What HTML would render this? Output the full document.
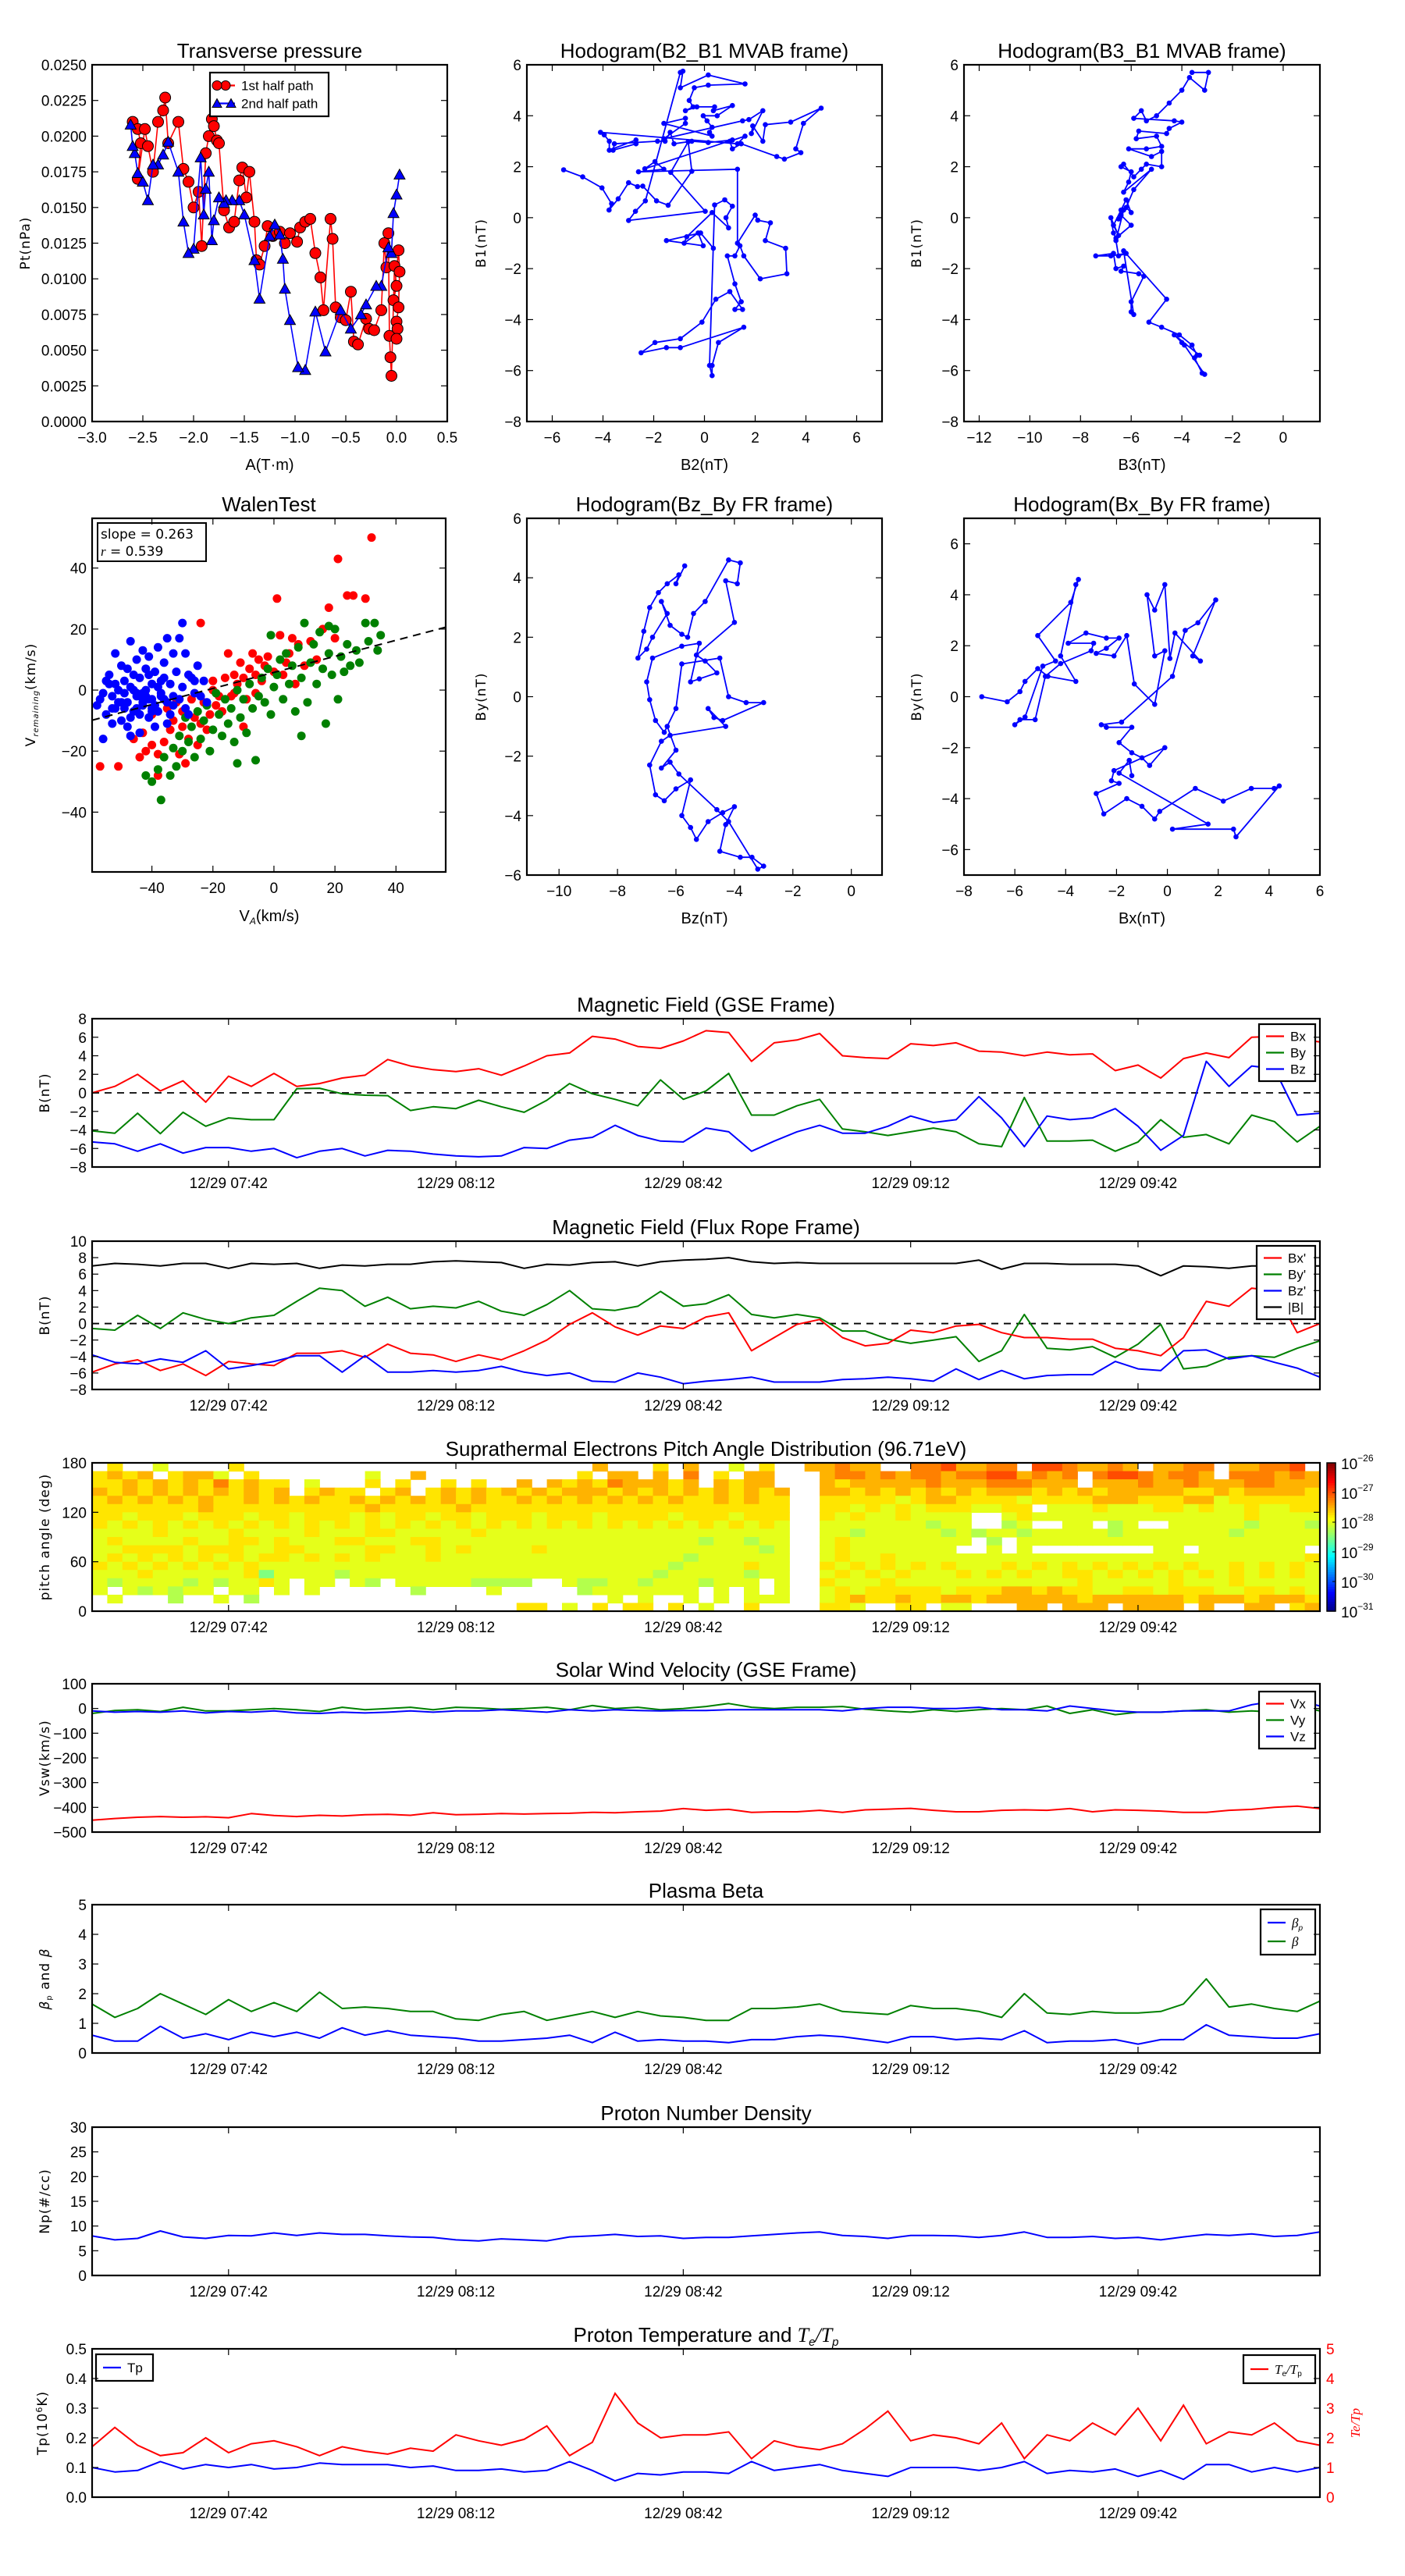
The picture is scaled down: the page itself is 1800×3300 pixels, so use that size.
<!DOCTYPE html>
<html><head><meta charset="utf-8"><title>Flux rope analysis</title>
<style>
html,body{margin:0;padding:0;background:#fff;}
svg{display:block;}
text{font-family:"Liberation Sans Narrow","Liberation Sans",sans-serif;fill:#000;}
.tk{font-size:19px;}
.tt{font-size:26px;}
.yl{font-family:"DejaVu Sans","Liberation Sans",sans-serif;font-size:17px;letter-spacing:1px;}
.xl{font-size:20px;}
.lg{font-size:17px;}
</style></head>
<body>
<svg id="fig" xmlns="http://www.w3.org/2000/svg" width="1800" height="3300" viewBox="0 0 1800 3300"></svg>
<script>
// ---------------- DATA ----------------
const tpRedA=[-2.6,-2.55,-2.52,-2.55,-2.48,-2.45,-2.4,-2.35,-2.3,-2.28,-2.25,-2.15,-2.1,-2.05,-2.0,-1.95,-1.92,-1.88,-1.85,-1.82,-1.8,-1.77,-1.75,-1.7,-1.65,-1.6,-1.55,-1.52,-1.48,-1.45,-1.4,-1.38,-1.35,-1.3,-1.27,-1.22,-1.15,-1.1,-1.05,-0.98,-0.95,-0.9,-0.85,-0.8,-0.75,-0.72,-0.65,-0.63,-0.6,-0.55,-0.5,-0.45,-0.42,-0.38,-0.3,-0.27,-0.22,-0.15,-0.12,-0.1,-0.08,-0.07,-0.06,-0.05,-0.02,0.0,-0.03,0.02,0.03,0.02,0.0,0.01,0.0];
const tpRedP=[0.021,0.0205,0.0195,0.017,0.0205,0.0193,0.0175,0.021,0.0218,0.0227,0.0195,0.021,0.0177,0.0168,0.015,0.0161,0.0123,0.0188,0.02,0.0212,0.0207,0.0197,0.0195,0.0148,0.0136,0.014,0.0169,0.0178,0.0157,0.0175,0.014,0.0113,0.011,0.0123,0.0137,0.013,0.0133,0.0125,0.0132,0.0126,0.0136,0.014,0.0142,0.0118,0.0101,0.0078,0.0142,0.0128,0.008,0.0073,0.0071,0.0091,0.0056,0.0054,0.0072,0.0065,0.0064,0.0078,0.0125,0.0108,0.0132,0.006,0.0045,0.0032,0.0109,0.0095,0.0085,0.012,0.0105,0.008,0.007,0.0065,0.0058];
const tpBlueA=[0.03,0.0,-0.03,-0.05,-0.08,-0.15,-0.2,-0.3,-0.35,-0.45,-0.55,-0.7,-0.8,-0.9,-0.97,-1.05,-1.1,-1.12,-1.15,-1.2,-1.25,-1.35,-1.4,-1.5,-1.55,-1.62,-1.68,-1.7,-1.75,-1.8,-1.82,-1.85,-1.88,-1.9,-1.93,-2.0,-2.05,-2.1,-2.15,-2.25,-2.3,-2.35,-2.4,-2.45,-2.5,-2.55,-2.58,-2.6,-2.62];
const tpBlueP=[0.0173,0.0159,0.0146,0.0118,0.0122,0.0095,0.0095,0.0082,0.0075,0.0065,0.0078,0.0049,0.0077,0.0036,0.0038,0.0071,0.0093,0.0114,0.0131,0.0138,0.013,0.0086,0.0113,0.0145,0.0155,0.0155,0.0155,0.0153,0.0157,0.0141,0.0127,0.0175,0.0163,0.0145,0.0185,0.0121,0.0118,0.014,0.0175,0.0196,0.0187,0.018,0.018,0.0155,0.0168,0.0174,0.0188,0.0193,0.0208];
const h1X=[-5.55,-4.8,-4.04,-3.66,-3.76,-3.4,-2.99,-2.64,-2.43,-1.89,-1.43,-0.5,-0.64,-1.33,0.03,-2.99,-2.72,-2.33,-0.95,-0.85,-0.95,0.15,1.6,0.15,-0.4,-0.6,-0.45,-0.75,-0.3,0.4,0.35,1.1,0.5,-0.05,0.1,0.3,0.2,0.3,-1.6,-0.75,-0.75,-1.6,1.5,1.75,2.3,1.85,1.9,2.3,2.4,3.4,4.6,3.9,3.6,3.8,3.15,2.85,1.45,1.1,1.0,1.6,1.3,-4.1,-3.95,-3.75,-3.75,-2.7,-2.7,-3.6,-3.55,-1.85,-1.55,-1.35,-1.2,-0.5,0.15,1.1,-2.35,-1.95,-1.6,-2.6,1.3,1.3,2.0,2.1,2.6,2.4,3.2,3.25,2.2,1.55,1.4,1.2,0.9,1.2,1.45,1.2,1.5,1.0,0.45,-0.1,-0.95,-1.95,-2.5,-1.5,-0.95,1.55,0.55,0.3,0.3,0.2,0.4,0.8,1.1,0.85,0.95,0.3,-0.7,-0.8,-0.25,-0.05,-1.5,-0.15,0.35];
const h1Y=[1.88,1.6,1.17,0.55,0.3,0.74,1.37,1.22,1.24,0.66,0.49,1.82,2.98,1.78,0.25,-0.11,0.25,0.66,5.7,5.75,5.1,5.6,5.25,5.2,5.1,4.6,4.35,4.2,4.35,4.35,4.2,4.4,4.0,4.0,3.8,3.55,3.35,3.2,3.7,3.9,3.7,3.1,3.8,3.85,4.2,3.3,3.6,3.0,3.65,3.75,4.3,3.7,2.7,2.55,2.3,2.4,2.9,2.7,3.0,3.2,2.9,3.35,3.25,3.0,2.65,3.05,2.9,2.65,2.9,3.0,3.0,3.35,2.9,3.0,2.95,3.05,1.92,2.2,1.9,1.8,1.9,-1.0,0.1,-0.1,-0.2,-0.9,-1.2,-2.2,-2.4,-1.5,-1.1,-1.5,-1.5,-2.6,-3.3,-3.6,-3.6,-2.9,-3.2,-4.1,-4.75,-4.9,-5.3,-5.1,-5.1,-4.3,-4.9,-5.8,-6.2,-5.8,0.5,0.7,0.45,0.0,-0.4,0.2,-0.75,-1.0,-0.6,-1.1,-0.9,-0.6,-1.2];
const h2X=[-3.6,-2.95,-3.1,-3.7,-4.0,-4.5,-5.0,-5.4,-5.6,-5.9,-4.3,-4.0,-4.5,-4.6,-5.7,-5.8,-5.0,-4.8,-5.4,-6.1,-5.2,-4.8,-4.8,-5.4,-5.6,-5.9,-6.3,-6.4,-6.0,-6.1,-6.3,-5.2,-5.9,-6.2,-6.0,-6.2,-6.4,-6.7,-6.5,-6.8,-6.7,-6.6,-6.0,-6.4,-6.5,-6.3,-6.6,-6.5,-6.2,-6.8,-7.4,-6.7,-6.6,-6.3,-6.4,-5.7,-5.5,-6.0,-6.0,-5.9,-6.3,-4.6,-5.3,-4.8,-4.1,-3.6,-3.4,-3.5,-3.2,-3.1,-3.9,-4.0,-4.3,-3.3];
const h2Y=[5.7,5.7,5.0,5.5,5.0,4.5,4.0,3.8,4.2,3.9,3.8,3.75,3.5,3.3,3.4,3.1,3.2,2.8,2.7,2.7,2.4,2.6,2.0,2.1,1.9,1.6,2.1,2.0,1.8,1.4,1.0,1.9,1.1,0.4,0.2,0.7,0.3,-0.3,-0.7,0.0,-0.6,-0.8,-0.3,0.1,-0.05,0.3,-0.9,-1.5,-1.4,-1.5,-1.5,-1.4,-2.0,-1.9,-2.1,-2.2,-2.3,-3.3,-3.7,-3.8,-1.3,-3.2,-4.1,-4.3,-4.6,-5.0,-5.4,-5.5,-6.1,-6.15,-5.0,-4.9,-4.6,-5.4];
const wBlueX=[-57,-55,-56,-54,-53,-52,-52,-51,-50,-50,-49,-48,-48,-47,-47,-46,-45,-45,-44,-44,-43,-43,-42,-42,-41,-41,-40,-40,-39,-38,-38,-37,-36,-36,-35,-35,-34,-33,-33,-32,-31,-31,-30,-30,-29,-28,-28,-27,-26,-25,-24,-23,-22,-55,-53,-49,-46,-44,-42,-39,-37,-51,-48,-45,-40,-36,-34,-47,-52,-43,-38,-41,-33,-29,-26,-58,-56,-54,-50,-49,-46,-44,-43,-41,-39,-37,-35,-53,-47,-45,-42,-40];
const wBlueY=[-3,-8,-16,5,-2,12,-6,0,-10,8,3,-4,-12,16,1,-7,10,-2,4,-14,13,-5,7,0,-9,11,2,-3,6,-7,14,-1,9,4,-11,17,2,-5,12,6,17,-3,22,1,12,-8,5,4,-1,8,-2,3,-4,3,-11,-1,5,-8,-2,-12,3,-4,7,-6,-6,-3,-8,-15,2,-1,1,5,-2,-6,3,-5,-1,2,-4,-6,0,-2,-4,-3,-5,-2,-4,-6,-9,-1,-3,-7];
const wRedX=[-57,-51,-46,-44,-43,-42,-40,-40,-38,-38,-36,-35,-34,-33,-32,-31,-30,-30,-28,-27,-26,-25,-24,-23,-22,-21,-20,-19,-18,-16,-15,-14,-13,-12,-11,-10,-9,-8,-7,-6,-5,-4,-3,-2,0,1,2,4,5,6,8,10,12,14,16,18,20,21,24,26,27,30,32,-29,-24,-20,-17,-13,-10,-6,3,7];
const wRedY=[-25,-25,-16,-22,-14,-20,-8,-18,-21,-28,-17,-6,-13,-10,-4,-21,-12,-7,-16,-3,-9,-18,-11,-4,-13,-8,0,-5,-2,4,12,-2,5,2,9,4,-3,7,12,5,10,3,8,11,6,30,18,9,12,17,15,8,16,10,20,27,17,43,31,31,58,30,50,-24,22,3,-7,-1,-12,-1,5,2];
const wGreenX=[-42,-40,-38,-37,-36,-34,-33,-32,-31,-30,-29,-28,-27,-26,-25,-24,-23,-22,-21,-20,-18,-17,-16,-15,-14,-13,-12,-11,-10,-9,-8,-7,-6,-5,-4,-3,-2,-1,0,1,2,3,4,5,6,7,8,9,10,11,12,13,14,15,16,17,18,19,20,21,22,23,24,25,27,28,30,31,33,34,35,-1,-12,-19,9,18];
const wGreenY=[-28,-30,-26,-36,-22,-28,-19,-25,-15,-20,-9,-17,-12,-22,-7,-16,-10,-5,-20,-13,-8,-15,-3,-11,-6,-17,0,-9,-3,-14,2,-6,-23,-2,4,-4,7,-8,1,5,10,-3,12,2,8,-7,14,4,22,-4,9,15,2,19,7,-11,12,5,20,-3,11,6,15,8,13,9,22,16,22,13,18,18,-24,-1,-15,21];
const walenSlope=0.263, walenIntercept=5.8, walenR=0.539;
const h3X=[-5.7,-6.0,-5.9,-6.3,-6.6,-6.9,-7.1,-7.3,-7.0,-6.8,-6.3,-6.5,-6.2,-5.8,-5.6,-5.4,-5.0,-4.2,-3.8,-3.9,-4.3,-4.0,-5.3,-5.0,-4.6,-5.2,-5.5,-5.2,-5.8,-6.8,-7.0,-6.9,-6.7,-6.4,-6.0,-5.8,-4.5,-4.2,-3.6,-3.0,-4.4,-4.7,-4.9,-4.3,-6.2,-6.5,-6.9,-6.7,-6.4,-6.0,-5.5,-5.8,-5.5,-5.3,-4.9,-4.4,-4.0,-4.3,-4.5,-3.8,-3.4,-3.0,-3.2,-4.2,-4.6,-5.9,-6.2,-6.5,-6.0,-6.3];
const h3Y=[4.4,3.8,4.1,3.8,3.5,3.0,2.2,1.3,1.6,2.0,2.8,3.2,2.4,2.1,2.0,2.8,3.2,4.6,4.5,3.8,3.9,2.5,1.4,1.2,0.8,0.6,0.5,1.8,1.7,1.3,0.5,-0.1,-0.8,-1.2,-0.4,1.1,1.3,0.0,-0.2,-0.2,-0.8,-0.7,-0.4,-1.0,-1.3,-1.5,-2.3,-3.3,-3.5,-3.1,-2.8,-4.0,-4.4,-4.8,-4.2,-3.9,-3.7,-4.3,-5.2,-5.4,-5.4,-5.7,-5.8,-4.2,-3.8,-2.6,-2.2,-2.4,-1.8,-1.0];
const h4X=[-7.3,-6.3,-5.8,-5.6,-5.1,-4.7,-3.6,-4.2,-3.6,-3.5,-3.8,-5.1,-4.4,-4.9,-5.6,-6.0,-5.8,-5.2,-4.8,-4.2,-3.0,-2.9,-3.9,-3.2,-2.4,-1.9,-2.4,-2.8,-2.1,-1.6,-1.3,-0.5,-0.1,-0.5,-0.8,-0.5,-0.1,0.1,0.3,1.3,1.0,1.9,1.2,0.7,0.2,-1.8,-2.6,-2.4,-1.4,-1.9,-1.4,-1.0,-0.7,-0.1,-2.1,-2.2,-1.9,-2.8,-2.5,-1.6,-1.0,-0.5,-0.3,1.1,2.2,3.3,4.2,4.4,2.7,2.6,0.2,1.6,-1.9,-1.5,-1.4];
const h4Y=[0,-0.2,0.2,0.6,1.1,0.8,0.6,1.6,4.4,4.6,3.7,2.4,1.4,1.2,-0.8,-1.1,-0.9,-0.9,0.8,1.3,1.8,2.1,2.1,2.5,2.3,2.3,1.9,1.7,1.6,2.4,0.5,-0.3,1.8,1.6,4.0,3.4,4.4,1.5,2.5,1.4,1.6,3.8,2.9,2.6,0.8,-1.0,-1.1,-1.2,-1.2,-1.8,-2.2,-2.4,-2.7,-2.0,-2.9,-3.3,-3.4,-3.8,-4.6,-4.0,-4.3,-4.8,-4.5,-3.6,-4.1,-3.6,-3.6,-3.5,-5.5,-5.2,-5.2,-5.0,-3.0,-2.5,-3.1];
const timeTicks=[18,48,78,108,138];
const timeTickLabels=["12/29 07:42","12/29 08:12","12/29 08:42","12/29 09:12","12/29 09:42"];
const gseBx=[0,0.7,2.0,0.2,1.3,-1.0,1.8,0.7,2.1,0.7,1.0,1.6,1.9,3.6,2.9,2.5,2.3,2.6,1.9,2.9,4.0,4.3,6.1,5.8,5.0,4.8,5.6,6.7,6.5,3.4,5.4,5.7,6.4,4.0,3.8,3.7,5.3,5.1,5.4,4.5,4.4,4.0,4.4,4.1,4.2,2.4,3.0,1.6,3.7,4.3,3.8,6.0,6.1,5.8,5.5];
const gseBy=[-4.1,-4.35,-2.2,-4.4,-2.1,-3.6,-2.7,-2.9,-2.9,0.45,0.5,-0.1,-0.25,-0.3,-1.9,-1.5,-1.7,-0.8,-1.5,-2.1,-0.8,1.0,-0.1,-0.7,-1.4,1.4,-0.7,0.2,2.1,-2.4,-2.4,-1.4,-0.7,-3.9,-4.2,-4.6,-4.2,-3.8,-4.2,-5.5,-5.8,-0.5,-5.2,-5.2,-5.1,-6.3,-5.3,-2.9,-4.8,-4.5,-5.5,-2.4,-3.1,-5.3,-3.6];
const gseBz=[-5.3,-5.5,-6.3,-5.5,-6.5,-5.9,-5.9,-6.3,-6.0,-7.0,-6.3,-6.0,-6.8,-6.2,-6.3,-6.6,-6.8,-6.9,-6.8,-5.9,-6.0,-5.1,-4.8,-3.5,-4.6,-5.2,-5.3,-3.8,-4.2,-6.3,-5.2,-4.2,-3.5,-4.35,-4.35,-3.6,-2.5,-3.2,-2.9,-0.4,-2.7,-5.8,-2.5,-2.9,-2.7,-1.7,-3.6,-6.2,-4.6,3.4,0.7,2.9,2.6,-2.4,-2.2];
const frBx=[-5.9,-4.9,-4.4,-5.7,-4.9,-6.3,-4.6,-4.9,-5.1,-3.6,-3.6,-3.3,-4.1,-2.5,-3.6,-3.8,-4.6,-3.8,-4.4,-3.3,-2.0,-0.1,1.3,-0.4,-1.4,-0.3,-0.6,0.8,1.3,-3.3,-1.7,-0.1,0.5,-1.7,-2.7,-2.4,-0.8,-1.1,-0.3,-0.1,-1.1,-1.7,-1.7,-1.9,-1.9,-3.0,-3.3,-3.9,-1.7,2.7,2.1,4.3,4.0,-1.1,0.0];
const frBy=[-0.6,-0.8,1.0,-0.6,1.3,0.5,0.0,0.7,1.0,2.7,4.3,4.0,2.1,3.2,1.8,2.1,1.9,2.7,1.5,1.0,2.3,4.0,1.8,1.6,2.1,3.9,2.1,2.4,3.5,1.1,0.7,1.1,0.7,-0.9,-0.9,-1.9,-2.4,-2.0,-1.6,-4.6,-3.3,1.1,-3.0,-3.2,-2.8,-4.1,-2.5,-0.1,-5.5,-5.2,-4.1,-3.9,-4.1,-3.0,-2.1];
const frBz=[-3.8,-4.7,-4.9,-4.3,-4.7,-3.3,-5.5,-5.1,-4.6,-3.9,-3.9,-5.9,-3.9,-5.9,-5.9,-5.7,-5.9,-5.7,-5.2,-5.9,-6.3,-6.0,-7.0,-7.1,-6.0,-6.5,-7.3,-7.0,-6.8,-6.5,-7.1,-7.1,-7.1,-6.8,-6.7,-6.5,-6.7,-7.0,-5.5,-6.8,-5.7,-6.7,-6.3,-6.2,-6.2,-4.6,-5.5,-5.7,-3.3,-3.2,-4.3,-3.9,-4.7,-5.4,-6.5];
const frBt=[7.0,7.3,7.2,7.0,7.3,7.3,6.7,7.3,7.2,7.3,6.7,7.1,7.0,7.2,7.2,7.5,7.6,7.5,7.4,6.7,7.2,7.1,7.4,7.5,7.0,7.5,7.7,7.8,8.0,7.5,7.3,7.4,7.3,7.3,7.3,7.3,7.3,7.3,7.3,7.7,6.6,7.3,7.3,7.2,7.2,7.2,7.0,5.8,7.0,6.9,6.7,7.0,7.0,7.0,7.0];
const velVx=[-452,-445,-440,-437,-440,-438,-442,-425,-433,-437,-432,-435,-430,-428,-432,-422,-430,-428,-425,-427,-425,-424,-420,-422,-418,-415,-405,-412,-408,-420,-418,-418,-412,-420,-410,-407,-404,-412,-418,-418,-412,-410,-412,-405,-418,-410,-412,-415,-420,-420,-412,-408,-400,-395,-405];
const velVy=[-20,-8,-5,-12,5,-10,-10,-5,0,-5,-12,5,-5,0,5,-5,5,2,-3,0,5,-5,12,0,5,-5,0,8,20,5,0,5,5,8,-3,-10,-15,-5,-12,-5,0,-5,10,-20,-5,-25,-15,-15,-10,-5,-15,-10,-15,10,-10];
const velVz=[-10,-15,-12,-15,-10,-18,-12,-15,-10,-18,-20,-15,-18,-15,-10,-15,-10,-10,-5,-10,-15,-5,-10,-5,-8,-10,-8,-8,-5,-5,-5,-5,-5,-10,0,5,5,0,0,5,-5,-5,-10,10,0,-10,-15,-15,-10,-10,-10,15,30,35,10];
const betaP=[0.6,0.4,0.4,0.9,0.5,0.65,0.45,0.7,0.55,0.7,0.5,0.85,0.6,0.75,0.6,0.55,0.5,0.4,0.4,0.45,0.5,0.6,0.35,0.7,0.4,0.45,0.4,0.4,0.35,0.45,0.45,0.55,0.6,0.55,0.45,0.35,0.55,0.55,0.45,0.5,0.45,0.75,0.35,0.4,0.4,0.45,0.3,0.45,0.45,0.95,0.6,0.55,0.5,0.5,0.65];
const betaT=[1.65,1.2,1.5,2.0,1.65,1.3,1.8,1.4,1.7,1.4,2.05,1.5,1.55,1.5,1.4,1.4,1.15,1.1,1.3,1.4,1.1,1.25,1.4,1.2,1.4,1.25,1.2,1.1,1.1,1.5,1.5,1.55,1.65,1.4,1.35,1.3,1.6,1.5,1.5,1.4,1.2,2.0,1.35,1.3,1.4,1.35,1.35,1.4,1.65,2.5,1.55,1.65,1.5,1.4,1.75];
const npDensity=[8,7.2,7.5,9,7.8,7.5,8.1,8.0,8.6,8.1,8.6,8.3,8.3,8.0,7.8,7.7,7.2,7.0,7.4,7.2,7.0,7.8,8.0,8.3,7.9,8.0,7.5,7.7,7.7,8.0,8.3,8.6,8.8,8.1,7.9,7.5,8.1,8.1,8.0,7.7,8.1,8.8,7.7,7.7,7.9,7.5,7.7,7.2,7.8,8.3,8.1,8.4,7.9,8.1,8.8];
const tpTemp=[0.1,0.085,0.09,0.12,0.095,0.11,0.1,0.11,0.095,0.1,0.115,0.11,0.11,0.11,0.1,0.105,0.09,0.09,0.095,0.085,0.09,0.12,0.09,0.055,0.08,0.075,0.085,0.085,0.08,0.12,0.09,0.1,0.11,0.09,0.08,0.07,0.1,0.1,0.1,0.09,0.1,0.12,0.08,0.09,0.085,0.095,0.07,0.09,0.06,0.11,0.11,0.085,0.1,0.085,0.1];
const teTpRatio=[1.7,2.35,1.75,1.4,1.5,2.0,1.5,1.8,1.9,1.7,1.4,1.7,1.55,1.45,1.65,1.55,2.1,1.9,1.75,1.95,2.4,1.4,1.85,3.5,2.5,2.0,2.1,2.1,2.2,1.3,1.9,1.7,1.6,1.8,2.3,2.9,1.9,2.1,2.0,1.8,2.5,1.3,2.1,1.9,2.5,2.1,3.0,1.9,3.1,1.8,2.2,2.1,2.5,1.9,1.75];
const padRows=[
".6..5....6.......................7...6.7..5.6..77877..8897788.9987787.7788.77889",
"6767.6775.6.......5..7..........6.77.7.8.6.77...78878788788997878.89987887.8887878",
"6676767686766.5...6.6..6.6..7.7676877767.7677...76777778777888777.77787787778877777",
"7676767676767.6766.67.676767676777676767676767..77676767676777676767777766767777677",
"6767676766767676676767676766767676767676676766..66666567766665666677766677566666666",
"6666666766666666667666667666666666666666666666..66565656665566.55565556656556556665",
"6656665666566566656566566566656665666656665666..6565565555..565555555555555565555565",
"6565656565656565656565656565656565656565656565..5555555455..45..55.45..5555545554565",
"5555655556555565556655555655555555555555555555..5545555545455455555455555554555555",
"5655556556656555665556655555555555555555455455..5655555555.4.5555555555555555555555",
"5566665666556655556655656555565555555555555545..565555555..5.5........55.5555555.55",
"5656565656566565656555655555555555555554555555..5655655555555555555555555555555565",
"6565656565655555555555555555555555555545555655..6565656565556565656565656556565656",
"5556555555635555455555555555555555555455555455..5656565556565655665656565656565656",
"5455554545565.55.54.555554444..5445545554555.5..6555655555555555565555565556555555",
"5.545455.55.5.5......4....5.....45555555.5.5.5..5656666656667767665566566655665656",
".5...4..5.4.......................5.5..5.5.555..5676676677677777767777776777677767",
"............................66.5.6.66.6.5..6....665..66.55...77.777.7777.7..77.67.6"];
const cbarTicks=[-26,-27,-28,-29,-30,-31];

// ---------------- HELPERS ----------------
const NS='http://www.w3.org/2000/svg';
const svg=document.getElementById('fig');
function mk(tag,parent,attrs){const e=document.createElementNS(NS,tag);for(const k in attrs)e.setAttribute(k,attrs[k]);parent.appendChild(e);return e;}
function txt(parent,x,y,s,cls,anchor){const t=mk('text',parent,{x:x,y:y,'text-anchor':anchor||'middle'});if(cls)t.setAttribute('class',cls);t.textContent=s;return t;}
function lin(d0,d1,r0,r1){return v=>r0+(v-d0)/(d1-d0)*(r1-r0);}
function jet(t){const c=v=>Math.round(255*Math.max(0,Math.min(1,v)));return 'rgb('+c(1.5-Math.abs(4*t-3))+','+c(1.5-Math.abs(4*t-2))+','+c(1.5-Math.abs(4*t-1))+')';}
function fmtNum(v,dec){const s=Math.abs(v).toFixed(dec);return (v<0?'\u2212':'')+s;}
let clipN=0;
function axes(name,b,xd,yd,opt){
  const g=mk('g',svg,{});
  
  
  const sx=lin(xd[0],xd[1],b.x0,b.x1), sy=lin(yd[0],yd[1],b.y1,b.y0);
  const id='clip'+(clipN++);
  const cp=mk('clipPath',g,{id:id});
  mk('rect',cp,{x:b.x0,y:b.y0,width:b.x1-b.x0,height:b.y1-b.y0});
  const plot=mk('g',g,{'clip-path':'url(#'+id+')'});
  
  
  const over=mk('g',g,{});
  const tg=mk('g',g,{});
  
  
  (opt.xticks||[]).forEach((v,i)=>{const x=sx(v);
    mk('line',tg,{x1:x,y1:b.y1,x2:x,y2:b.y1-8,stroke:'#000','stroke-width':1.2});
    mk('line',tg,{x1:x,y1:b.y0,x2:x,y2:b.y0+8,stroke:'#000','stroke-width':1.2});
    const lab=opt.xlabels?opt.xlabels[i]:opt.xfmt(v);
    const t=txt(tg,x,b.y1+27,lab,'tk');
    
    });
  (opt.yticks||[]).forEach(v=>{const y=sy(v);
    mk('line',tg,{x1:b.x0,y1:y,x2:b.x0+8,y2:y,stroke:'#000','stroke-width':1.2});
    if(!opt.noRightTicks)mk('line',tg,{x1:b.x1,y1:y,x2:b.x1-8,y2:y,stroke:'#000','stroke-width':1.2});
    const t=txt(tg,b.x0-7,y+7,opt.yfmt(v),'tk','end');
    
    });
  const fr=mk('rect',g,{x:b.x0,y:b.y0,width:b.x1-b.x0,height:b.y1-b.y0,fill:'none',stroke:'#000','stroke-width':2.2});
  
  
  if(opt.title){const t=txt(g,(b.x0+b.x1)/2,b.y0-9,opt.title,'tt');
    
    }
  if(opt.xlabel){const t=txt(g,(b.x0+b.x1)/2,b.y1+62,opt.xlabel,'xl');
    
    }
  if(opt.ylabel){const yx=opt.ylabelX, yy=(b.y0+b.y1)/2;
    const t=txt(g,yx,yy,opt.ylabel,'yl');
    t.setAttribute('transform','rotate(-90 '+yx+' '+yy+')');
    
    }
  return {g,plot,over,sx,sy,b};
}
function line(ax,xs,ys,color,w,name){
  const pts=xs.map((x,i)=>ax.sx(x).toFixed(1)+','+ax.sy(ys[i]).toFixed(1)).join(' ');
  const p=mk('polyline',ax.plot,{points:pts,fill:'none',stroke:color,'stroke-width':w||2,'stroke-linejoin':'round'});
  
  
  return p;
}
function dots(ax,xs,ys,color,r,name,edge){
  const g=mk('g',ax.plot,{});
  
  
  xs.forEach((x,i)=>{const c=mk('circle',g,{cx:ax.sx(x).toFixed(1),cy:ax.sy(ys[i]).toFixed(1),r:r,fill:color});
    if(edge){c.setAttribute('stroke',edge);c.setAttribute('stroke-width',1);}});
}
function tris(ax,xs,ys,color,s,name){
  const g=mk('g',ax.plot,{});
  
  
  xs.forEach((x,i)=>{const cx=ax.sx(x),cy=ax.sy(ys[i]);
    mk('polygon',g,{points:(cx)+','+(cy-s)+' '+(cx-s)+','+(cy+s*0.8)+' '+(cx+s)+','+(cy+s*0.8),fill:color,stroke:'#000','stroke-width':1});});
}
function legend(ax,x,y,w,entries,name,rowH){
  const g=mk('g',ax.over,{});
  
  
  rowH=rowH||25;
  mk('rect',g,{x:x,y:y,width:w,height:entries.length*rowH+10,fill:'#fff',stroke:'#000','stroke-width':2.2});
  entries.forEach((e,i)=>{const yy=y+5+rowH*(i+0.5);
    const it=mk('g',g,{});
    
    
    mk('line',it,{x1:x+9,y1:yy,x2:x+32,y2:yy,stroke:e.color,'stroke-width':2.2});
    if(e.marker==='o')mk('circle',it,{cx:x+20,cy:yy,r:6,fill:e.color,stroke:'#000'});
    if(e.marker==='o')mk('circle',it,{cx:x+9,cy:yy,r:6,fill:e.color,stroke:'#000'});
    if(e.marker==='^'){mk('polygon',it,{points:(x+9)+','+(yy-6)+' '+(x+3)+','+(yy+5)+' '+(x+15)+','+(yy+5),fill:e.color,stroke:'#000'});
      mk('polygon',it,{points:(x+27)+','+(yy-6)+' '+(x+21)+','+(yy+5)+' '+(x+33)+','+(yy+5),fill:e.color,stroke:'#000'});}
    const t=txt(it,x+40,yy+6,'', 'lg','start');
    if(e.html){e.html(t);}else t.textContent=e.label;});
}
function seriesX(n){const a=[];for(let i=0;i<n;i++)a.push(i*162/(n-1));return a;}
const tk=(a,b,s)=>{const r=[];for(let v=a;v<=b+1e-9;v+=s)r.push(+v.toFixed(6));return r;};

// ---------------- TOP ROW ----------------
const axTP=axes('transverse-pressure-chart',{x0:118,y0:83,x1:573,y1:540},[-3,0.5],[0,0.025],
 {xticks:tk(-3,0.5,0.5),yticks:tk(0,0.025,0.0025),xfmt:v=>fmtNum(v,1),yfmt:v=>v.toFixed(4),title:'Transverse pressure',xlabel:'A(T\u00b7m)',ylabel:'Pt(nPa)',ylabelX:38});
line(axTP,tpRedA,tpRedP,'#f00',1.6,'first-half-path-line');
dots(axTP,tpRedA,tpRedP,'#f00',7,'first-half-path-markers','#000');
line(axTP,tpBlueA,tpBlueP,'#00f',1.6,'second-half-path-line');
tris(axTP,tpBlueA,tpBlueP,'#00f',7,'second-half-path-markers');
legend(axTP,269,93,152,[{key:'1st-half',color:'#f00',marker:'o',label:'1st half path'},{key:'2nd-half',color:'#00f',marker:'^',label:'2nd half path'}],'tp-legend',23);

const axH1=axes('hodogram-b2-b1-chart',{x0:675,y0:83,x1:1130,y1:540},[-7,7],[-8,6],
 {xticks:tk(-6,6,2),yticks:tk(-8,6,2),xfmt:v=>fmtNum(v,0),yfmt:v=>fmtNum(v,0),title:'Hodogram(B2_B1 MVAB frame)',xlabel:'B2(nT)',ylabel:'B1(nT)',ylabelX:622});
line(axH1,h1X,h1Y,'#00f',1.8,'hodogram-b2-b1-path');
dots(axH1,h1X,h1Y,'#00f',3.3,'hodogram-b2-b1-points');

const axH2=axes('hodogram-b3-b1-chart',{x0:1235,y0:83,x1:1691,y1:540},[-12.6,1.45],[-8,6],
 {xticks:tk(-12,0,2),yticks:tk(-8,6,2),xfmt:v=>fmtNum(v,0),yfmt:v=>fmtNum(v,0),title:'Hodogram(B3_B1 MVAB frame)',xlabel:'B3(nT)',ylabel:'B1(nT)',ylabelX:1180});
line(axH2,h2X,h2Y,'#00f',1.8,'hodogram-b3-b1-path');
dots(axH2,h2X,h2Y,'#00f',3.3,'hodogram-b3-b1-points');

// ---------------- SECOND ROW ----------------
const axW=axes('walen-test-chart',{x0:118,y0:664,x1:571,y1:1117},[-59.6,56.3],[-59.6,56.3],
 {xticks:[-40,-20,0,20,40],yticks:[-40,-20,0,20,40],xfmt:v=>fmtNum(v,0),yfmt:v=>fmtNum(v,0),title:'WalenTest',ylabelX:38});
dots(axW,wRedX,wRedY,'#f00',5.5,'walen-red-points');
dots(axW,wGreenX,wGreenY,'#008000',5.5,'walen-green-points');
dots(axW,wBlueX,wBlueY,'#00f',5.5,'walen-blue-points');
(function(){const fx=[-59.6,56.3];const p=mk('line',axW.plot,{x1:axW.sx(fx[0]),y1:axW.sy(walenSlope*fx[0]+walenIntercept),x2:axW.sx(fx[1]),y2:axW.sy(walenSlope*fx[1]+walenIntercept),stroke:'#000','stroke-width':2,'stroke-dasharray':'10,7'});

})();
(function(){const g=mk('g',axW.over,{});


mk('rect',g,{x:125,y:670,width:139,height:49,fill:'#fff',stroke:'#000','stroke-width':2});
const t1=mk('text',g,{x:129,y:690,style:'font-family:"DejaVu Sans",sans-serif;font-size:17px'});t1.textContent='slope = '+walenSlope.toFixed(3);
const t2=mk('text',g,{x:129,y:712,style:'font-family:"DejaVu Sans",sans-serif;font-size:17px'});
const it=mk('tspan',t2,{'font-style':'italic','font-family':'"Liberation Serif",serif'});it.textContent='r';
const r2=mk('tspan',t2,{});r2.textContent=' = '+walenR.toFixed(3);})();
(function(){const t=txt(svg,345,1180,'V','xl');
const s=mk('tspan',t,{'font-size':'12','dy':'4','font-style':'italic'});s.textContent='A';
const s2=mk('tspan',t,{'dy':'-4'});s2.textContent='(km/s)';
const y=mk('text',svg,{x:45,y:890,'text-anchor':'middle',class:'yl',transform:'rotate(-90 45 890)'});

const a=mk('tspan',y,{});a.textContent='V';const b2=mk('tspan',y,{'font-size':'10','dy':'4','font-style':'italic'});b2.textContent='remaining';
const c=mk('tspan',y,{'dy':'-4'});c.textContent='(km/s)';})();

const axH3=axes('hodogram-bz-by-chart',{x0:675,y0:664,x1:1130,y1:1121},[-11.1,1.05],[-6,6],
 {xticks:tk(-10,0,2),yticks:tk(-6,6,2),xfmt:v=>fmtNum(v,0),yfmt:v=>fmtNum(v,0),title:'Hodogram(Bz_By FR frame)',xlabel:'Bz(nT)',ylabel:'By(nT)',ylabelX:622});
line(axH3,h3X,h3Y,'#00f',1.8,'hodogram-bz-by-path');
dots(axH3,h3X,h3Y,'#00f',3.3,'hodogram-bz-by-points');

const axH4=axes('hodogram-bx-by-chart',{x0:1235,y0:664,x1:1691,y1:1121},[-8,6],[-7,7],
 {xticks:tk(-8,6,2),yticks:tk(-6,6,2),xfmt:v=>fmtNum(v,0),yfmt:v=>fmtNum(v,0),title:'Hodogram(Bx_By FR frame)',xlabel:'Bx(nT)',ylabel:'By(nT)',ylabelX:1180});
line(axH4,h4X,h4Y,'#00f',1.8,'hodogram-bx-by-path');
dots(axH4,h4X,h4Y,'#00f',3.3,'hodogram-bx-by-points');

// ---------------- TIME SERIES ----------------
const TX0=118,TX1=1691,TH=190;
function tsAxes(name,top,yd,yticks,yfmt,title,ylabel,extra){
  return axes(name,{x0:TX0,y0:top,x1:TX1,y1:top+TH},[0,162],yd,Object.assign({xticks:timeTicks,xlabels:timeTickLabels,yticks:yticks,yfmt:yfmt,title:title,ylabel:ylabel,ylabelX:63},extra||{}));
}
function zeroLine(ax,name){const p=mk('line',ax.plot,{x1:ax.b.x0,x2:ax.b.x1,y1:ax.sy(0),y2:ax.sy(0),stroke:'#000','stroke-width':1.8,'stroke-dasharray':'9,7'});
}

const axG=tsAxes('gse-field-chart',1305,[-8,8],tk(-8,8,2),v=>fmtNum(v,0),'Magnetic Field (GSE Frame)','B(nT)');
zeroLine(axG,'gse-zero-line');
line(axG,seriesX(gseBx.length),gseBx,'#f00',2,'gse-bx-line');
line(axG,seriesX(gseBy.length),gseBy,'#008000',2,'gse-by-line');
line(axG,seriesX(gseBz.length),gseBz,'#00f',2,'gse-bz-line');
legend(axG,1613,1312,72,[{key:'bx',color:'#f00',label:'Bx'},{key:'by',color:'#008000',label:'By'},{key:'bz',color:'#00f',label:'Bz'}],'gse-legend',21);

const axF=tsAxes('flux-rope-field-chart',1590,[-8,10],tk(-8,10,2),v=>fmtNum(v,0),'Magnetic Field (Flux Rope Frame)','B(nT)');
zeroLine(axF,'fr-zero-line');
line(axF,seriesX(frBt.length),frBt,'#000',2,'fr-btotal-line');
line(axF,seriesX(frBy.length),frBy,'#008000',2,'fr-by-line');
line(axF,seriesX(frBx.length),frBx,'#f00',2,'fr-bx-line');
line(axF,seriesX(frBz.length),frBz,'#00f',2,'fr-bz-line');
legend(axF,1610,1596,75,[{key:'bx',color:'#f00',label:"Bx'"},{key:'by',color:'#008000',label:"By'"},{key:'bz',color:'#00f',label:"Bz'"},{key:'bt',color:'#000',label:'|B|'}],'fr-legend',21);

const axP=tsAxes('pitch-angle-chart',1874,[0,180],[0,60,120,180],v=>String(v),'Suprathermal Electrons Pitch Angle Distribution (96.71eV)','pitch angle (deg)');
(function(){const g=mk('g',axP.plot,{});


const nRows=padRows.length, colMin=2;
padRows.forEach((row,r)=>{const a1=180-r*180/nRows, a0=180-(r+1)*180/nRows;
  for(let c=0;c<row.length;c++){const ch=row[c];if(ch==='.')continue;
    const t=0.35+0.05*(+ch);const logv=-31+5*t;
    const x0=axP.sx(c*colMin),x1=axP.sx((c+1)*colMin);
    const cell=mk('rect',g,{x:x0.toFixed(1),y:axP.sy(a1).toFixed(1),width:(x1-x0+0.6).toFixed(1),height:(axP.sy(a0)-axP.sy(a1)+0.6).toFixed(1),fill:jet((logv+31)/5)});
    
    }});})();
(function(){const g=mk('g',svg,{});


const y0=1874,y1=2064,x=1700,w=11,N=60;
for(let i=0;i<N;i++){mk('rect',g,{x:x,y:(y1-(i+1)*(y1-y0)/N).toFixed(2),width:w,height:((y1-y0)/N+0.6).toFixed(2),fill:jet((i+0.5)/N)});}
mk('rect',g,{x:x,y:y0,width:w,height:y1-y0,fill:'none',stroke:'#000','stroke-width':1.5});
const cs=lin(-31,-26,y1,y0);
cbarTicks.forEach(v=>{const y=cs(v);mk('line',g,{x1:x+w-4,x2:x+w,y1:y,y2:y,stroke:'#000'});
  const t=txt(g,x+18,y+8,'10','tk','start');
  
  
  const s=mk('tspan',t,{'font-size':'12','dy':'-10'});s.textContent=String(v).replace('-','\u2212');});})();

const axV=tsAxes('solar-wind-velocity-chart',2157,[-500,100],tk(-500,100,100),v=>fmtNum(v,0),'Solar Wind Velocity (GSE Frame)','Vsw(km/s)');
line(axV,seriesX(velVx.length),velVx,'#f00',2,'vx-line');
line(axV,seriesX(velVy.length),velVy,'#008000',2,'vy-line');
line(axV,seriesX(velVz.length),velVz,'#00f',2,'vz-line');
legend(axV,1613,2167,72,[{key:'vx',color:'#f00',label:'Vx'},{key:'vy',color:'#008000',label:'Vy'},{key:'vz',color:'#00f',label:'Vz'}],'velocity-legend',21);

const axB=tsAxes('plasma-beta-chart',2440,[0,5],tk(0,5,1),v=>String(v),'Plasma Beta','');
line(axB,seriesX(betaT.length),betaT,'#008000',2,'beta-total-line');
line(axB,seriesX(betaP.length),betaP,'#00f',2,'beta-proton-line');
legend(axB,1615,2446,70,[{key:'betap',color:'#00f',html:t=>{const a=mk('tspan',t,{'font-style':'italic','font-family':'"Liberation Serif",serif'});a.textContent='\u03b2';const b=mk('tspan',t,{'font-size':'10','dy':'4','font-style':'italic'});b.textContent='p';}},{key:'beta',color:'#008000',html:t=>{const a=mk('tspan',t,{'font-style':'italic','font-family':'"Liberation Serif",serif'});a.textContent='\u03b2';}}],'beta-legend',24);
(function(){const y=mk('text',svg,{x:63,y:2535,'text-anchor':'middle',class:'yl',transform:'rotate(-90 63 2535)'});

const a=mk('tspan',y,{'font-style':'italic'});a.textContent='\u03b2';const b=mk('tspan',y,{'font-size':'10','dy':'3'});b.textContent='p';
const c=mk('tspan',y,{'dy':'-3'});c.textContent=' and ';const d=mk('tspan',y,{'font-style':'italic'});d.textContent='\u03b2';})();

const axN=tsAxes('proton-density-chart',2725,[0,30],tk(0,30,5),v=>String(v),'Proton Number Density','Np(#/cc)');
line(axN,seriesX(npDensity.length),npDensity,'#00f',2,'np-line');

const axT=tsAxes('proton-temperature-chart',3009,[0,0.5],tk(0,0.5,0.1),v=>v.toFixed(1),'','',{noRightTicks:true});
(function(){const t=txt(svg,(TX0+TX1)/2,3000,'Proton Temperature and ','tt');

const a=mk('tspan',t,{'font-style':'italic','font-family':'"Liberation Serif",serif'});a.textContent='T';
const b=mk('tspan',t,{'font-size':'15','dy':'5','font-style':'italic'});b.textContent='e';
const c=mk('tspan',t,{'dy':'-5','font-style':'italic','font-family':'"Liberation Serif",serif'});c.textContent='/T';
const d=mk('tspan',t,{'font-size':'15','dy':'5','font-style':'italic'});d.textContent='p';
const y=mk('text',svg,{x:60,y:3104,'text-anchor':'middle',class:'yl',transform:'rotate(-90 60 3104)'});

const y1=mk('tspan',y,{});y1.textContent='Tp(10';const y2=mk('tspan',y,{'font-size':'11','dy':'-6'});y2.textContent='6';const y3=mk('tspan',y,{'dy':'6'});y3.textContent='K)';
const rs=lin(0,5,3199,3009);
const rg=mk('g',svg,{});
[0,1,2,3,4,5].forEach(v=>{const yy=rs(v);mk('line',rg,{x1:TX1,x2:TX1-8,y1:yy,y2:yy,stroke:'#000','stroke-width':1.2});
  const l=txt(rg,TX1+8,yy+7,String(v),'tk','start');l.setAttribute('fill','#f00');l.setAttribute('style','fill:#f00');});
const rl=mk('text',svg,{x:1742,y:3104,'text-anchor':'middle',style:'fill:#f00;font-family:"Liberation Serif",serif;font-style:italic;font-size:17px',transform:'rotate(-90 1742 3104)'});
rl.textContent='Te/Tp';})();
line(axT,seriesX(tpTemp.length),tpTemp,'#00f',2,'tp-line');
(function(){const rs=lin(0,5,3199,3009);const xs=seriesX(teTpRatio.length);
const pts=xs.map((x,i)=>axT.sx(x).toFixed(1)+','+rs(teTpRatio[i]).toFixed(1)).join(' ');
const p=mk('polyline',axT.plot,{points:pts,fill:'none',stroke:'#f00','stroke-width':2});
})();
legend(axT,123,3016,73,[{key:'tp',color:'#00f',label:'Tp'}],'tp-legend',24);
legend(axT,1593,3017,92,[{key:'tetp',color:'#f00',html:t=>{const a=mk('tspan',t,{'font-style':'italic','font-family':'"Liberation Serif",serif'});a.textContent='T';const b=mk('tspan',t,{'font-size':'10','dy':'3'});b.textContent='e';const c=mk('tspan',t,{'dy':'-3','font-style':'italic','font-family':'"Liberation Serif",serif'});c.textContent='/T';const d=mk('tspan',t,{'font-size':'10','dy':'3'});d.textContent='p';}}],'te-tp-legend',26);
</script>
</body></html>
